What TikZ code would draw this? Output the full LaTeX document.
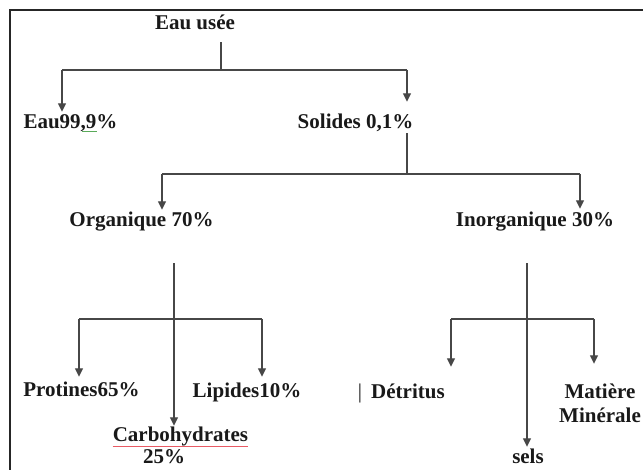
\documentclass[tikz,border=0pt]{standalone}
\usepackage{fontspec}
\setmainfont{Liberation Serif}
\usetikzlibrary{arrows.meta}
\definecolor{spellred}{RGB}{232,90,100}
\definecolor{spellgreen}{RGB}{90,170,90}
\begin{document}
\begin{tikzpicture}[x=1pt,y=-1pt,
  lbl/.style={font=\bfseries\fontsize{21}{23}\selectfont, inner sep=0pt,
    text height=15pt, text depth=4pt, anchor=base, text=black!90},
  ln/.style={line width=1.2pt, draw=black!72},
  arr/.style={ln, -{Triangle[width=8pt,length=8.5pt]}},
  wavy/.style={line width=0.9pt}]
\useasboundingbox (0,0) rectangle (643,470);
\fill[white] (0,0) rectangle (643,470);
\draw[line width=1.2pt, black!85] (10,470) -- (10,10) -- (643,10);

% labels
\node[lbl] (usee)  at (195,30)   {Eau usée};
\node[lbl] (eau)   at (70.5,129) {Eau99,9\%};
\node[lbl] (sol)   at (355.5,129){Solides 0,1\%};
\node[lbl] (org)   at (141.5,227){Organique 70\%};
\node[lbl] (inorg) at (535,227)  {Inorganique 30\%};
\node[lbl] (prot)  at (81.5,397) {Protines65\%};
\node[lbl] (lip)   at (247,398)  {Lipides10\%};
\node[lbl] (carb)  at (180.5,441){Carbohydrates};
\node[lbl, text depth=0pt] (c25)   at (164,463)  {25\%};
\node[lbl] (det0)  at (360,399)  {\mdseries|};
\node[lbl, anchor=base west] (det) at (371,399) {Détritus};
\node[lbl] (mat)   at (600,399)  {Matière};
\node[lbl] (min)   at (600,422)  {Minérale};
\node[lbl, text depth=0pt] (sels)  at (528,463)  {sels};

% spell-check underlines
\draw[wavy, spellgreen] (82,131.5) -- (97,131.5);
\draw[wavy, spellred] (carb.base west) ++(0,5) coordinate (cu1) -- (cu1 -| carb.east);

% level 1
\coordinate (b1)  at (221,70);
\coordinate (b1L) at (62,70);
\coordinate (b1R) at (407,70);
\draw[ln, shorten <=8pt] (usee.south -| b1) -- (b1);
\draw[ln] (b1L) -- (b1R);
\draw[arr, shorten >=2pt]  (b1L) -- (b1L |- eau.north);
\draw[arr, shorten >=12pt] (b1R) -- (b1R |- sol.north);

% level 2
\coordinate (b2)  at (407,174);
\coordinate (b2L) at (162,174);
\coordinate (b2R) at (580,174);
\draw[ln] (sol.south -| b2) -- (b2);
\draw[ln] (b2L) -- (b2R);
\draw[arr, shorten >=2pt] (b2L) -- (b2L |- org.north);
\draw[arr, shorten >=3pt] (b2R) -- (b2R |- inorg.north);

% level 3 (organique)
\coordinate (b3)  at (174,319);
\coordinate (b3L) at (79,319);
\coordinate (b3R) at (262,319);
\draw[arr, shorten <=32pt] (org.south -| b3) -- (b3 |- carb.north);
\draw[ln] (b3L) -- (b3R);
\draw[arr, shorten >=5pt] (b3L) -- (b3L |- prot.north);
\draw[arr, shorten >=6pt] (b3R) -- (b3R |- lip.north);

% level 3 (inorganique)
\coordinate (b4)  at (527,319);
\coordinate (b4L) at (451,319);
\coordinate (b4R) at (594,319);
\draw[arr, shorten <=32pt, shorten >=1pt] (inorg.south -| b4) -- (b4 |- sels.north);
\draw[ln] (b4L) -- (b4R);
\draw[arr, shorten >=17pt] (b4L) -- (b4L |- det.north);
\draw[arr, shorten >=20pt] (b4R) -- (b4R |- mat.north);
\end{tikzpicture}
\end{document}
